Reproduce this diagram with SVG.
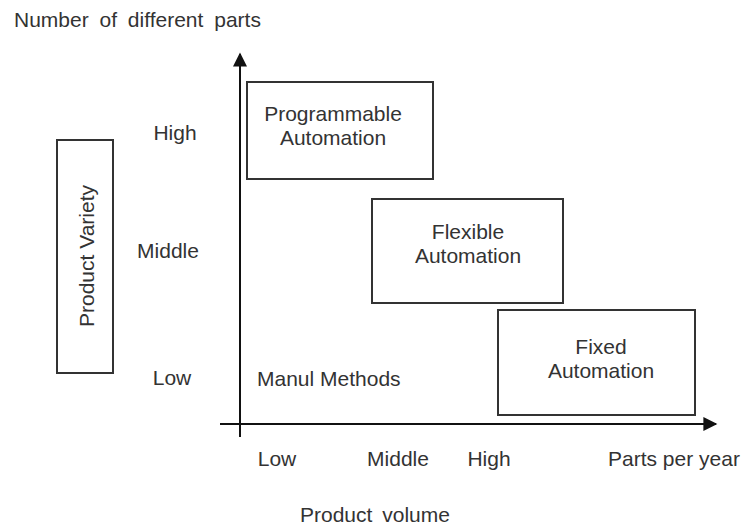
<svg xmlns="http://www.w3.org/2000/svg" width="747" height="526" viewBox="0 0 747 526">
<style>
text{font-family:"Liberation Sans",Arial,sans-serif;font-size:21px;fill:#333}
.c{text-anchor:middle}
.box{fill:#fff;stroke:#333;stroke-width:2}
.ax{stroke:#111;stroke-width:2;fill:none}
</style>
<defs>
<marker id="ah" viewBox="0 0 10 10" refX="9" refY="5" markerWidth="15" markerHeight="14" markerUnits="userSpaceOnUse" orient="auto">
<path d="M0,0 L10,5 L0,10 Z" fill="#111"/>
</marker>
</defs>
<rect width="747" height="526" fill="#fff"/>
<g id="connectors">
<line class="ax" x1="240" y1="437" x2="240" y2="54" marker-end="url(#ah)"/>
<line class="ax" x1="220" y1="424" x2="716" y2="424" marker-end="url(#ah)"/>
</g>
<text x="14" y="27" word-spacing="5">Number of different parts</text>
<g id="variety">
<rect class="box" x="57" y="140" width="56" height="233"/>
<text class="c" transform="translate(94,256) rotate(-90)">Product Variety</text>
</g>
<text class="c" x="175" y="140">High</text>
<text class="c" x="168" y="258">Middle</text>
<text class="c" x="172" y="385">Low</text>
<g id="programmable">
<rect class="box" x="247" y="82" width="186" height="97"/>
<text class="c" x="333" y="121">Programmable</text>
<text class="c" x="333" y="145">Automation</text>
</g>
<g id="flexible">
<rect class="box" x="372" y="199" width="191" height="104"/>
<text class="c" x="468" y="239">Flexible</text>
<text class="c" x="468" y="263">Automation</text>
</g>
<g id="fixed">
<rect class="box" x="498" y="310" width="197" height="105"/>
<text class="c" x="601" y="354">Fixed</text>
<text class="c" x="601" y="378">Automation</text>
</g>
<text x="257" y="386">Manul Methods</text>
<text class="c" x="277" y="466">Low</text>
<text class="c" x="398" y="466">Middle</text>
<text class="c" x="489" y="466">High</text>
<text x="608" y="466">Parts per year</text>
<text x="300" y="522" word-spacing="4">Product volume</text>
</svg>
